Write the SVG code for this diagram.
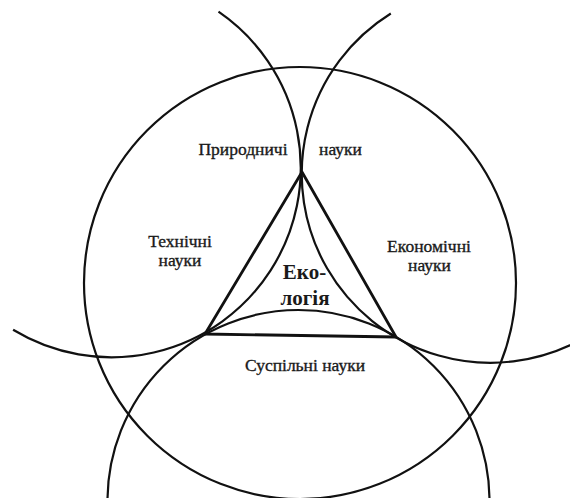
<svg xmlns="http://www.w3.org/2000/svg" width="570" height="498" viewBox="0 0 570 498">
<style>
.c{fill:none;stroke:#111;stroke-width:2.2}
.t{fill:none;stroke:#111;stroke-width:2.8;stroke-linejoin:round}
.l{font-family:"Liberation Serif","Times New Roman",serif;font-size:17.5px;fill:#1a1a1a;stroke:#1a1a1a;stroke-width:0.35;text-anchor:middle}
.e{font-family:"Liberation Serif","Times New Roman",serif;font-size:21px;font-weight:bold;fill:#1a1a1a;text-anchor:middle}
</style>
<rect width="570" height="498" fill="#fff"/>
<g id="connectors">
<circle id="big-circle" class="c" cx="300" cy="283" r="216"/>
<path id="left-circle" class="c" d="M 218.5 11.7 A 189.4 189.4 0 0 1 13.1 329.8"/>
<path id="right-circle" class="c" d="M 390.8 13.5 A 188.9 188.9 0 0 0 579.6 340.5"/>
<path id="bottom-circle" class="c" d="M 107.5 501 A 191 191 0 0 1 489.5 501"/>
<path id="triangle" class="t" d="M 302 172 L 205 334 L 396 337 Z"/>
</g>
<g id="natural"><text class="l" x="243" y="155">Природничі</text><text class="l" x="340.5" y="155">науки</text></g>
<g id="technical"><text class="l" x="180" y="246.5">Технічні</text><text class="l" x="180" y="266">науки</text></g>
<g id="economic"><text class="l" x="429" y="251.5">Економічні</text><text class="l" x="429.5" y="271">науки</text></g>
<g id="ecology"><text class="e" x="304.5" y="279">Еко-</text><text class="e" x="305" y="305">логія</text></g>
<g id="social"><text class="l" x="305" y="371">Суспільні науки</text></g>
</svg>
